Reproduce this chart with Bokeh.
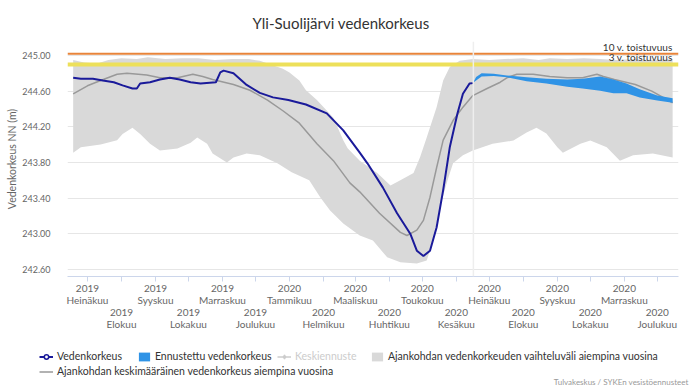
import pandas as pd
from bokeh.plotting import figure
from bokeh.layouts import column
from bokeh.models import (Range1d, FixedTicker, NumeralTickFormatter, Span, Label,
                          Legend, LegendItem)
from bokeh.embed import file_html
from bokeh.resources import INLINE

FONT = "Lato"

# ---------------- data ----------------
band_max_dates = ["2019-06-18", "2019-06-28", "2019-07-10", "2019-07-20", "2019-08-01", "2019-08-15",
                  "2019-08-25", "2019-09-10", "2019-09-25", "2019-10-10", "2019-10-25", "2019-11-10",
                  "2019-11-25", "2019-12-05", "2019-12-26", "2020-01-01", "2020-01-10", "2020-01-16",
                  "2020-01-26", "2020-02-10", "2020-02-19", "2020-02-23", "2020-03-05", "2020-03-21",
                  "2020-04-02", "2020-04-11", "2020-04-23", "2020-04-29", "2020-05-05", "2020-05-14",
                  "2020-05-20", "2020-05-26", "2020-06-04", "2020-06-16", "2020-07-01", "2020-07-15",
                  "2020-08-01", "2020-08-15", "2020-08-25", "2020-09-10", "2020-09-25", "2020-10-10",
                  "2020-10-25", "2020-11-10", "2020-11-25", "2020-12-15"]
band_max = [244.95, 244.92, 244.91, 244.95, 244.97, 244.96,
            244.98, 244.96, 244.97, 244.97, 244.95, 244.96,
            244.96, 244.94, 244.85, 244.81, 244.72, 244.61,
            244.50, 244.30, 244.05, 243.96, 243.82, 243.68,
            243.54, 243.60, 243.68, 243.86, 244.08, 244.42,
            244.72, 244.87, 244.94, 244.96, 244.95, 244.96,
            244.97, 244.95, 244.97, 244.96, 244.97, 244.96,
            244.95, 244.96, 244.95, 244.96]

band_min_dates = ["2019-06-18", "2019-06-25", "2019-07-13", "2019-07-28", "2019-08-02", "2019-08-11",
                  "2019-08-18", "2019-08-27", "2019-09-05", "2019-09-21", "2019-10-03", "2019-10-09",
                  "2019-10-18", "2019-10-23", "2019-11-05", "2019-11-11", "2019-11-23", "2019-12-05",
                  "2019-12-21", "2020-01-03", "2020-01-19", "2020-01-29", "2020-02-07", "2020-02-19",
                  "2020-03-05", "2020-03-17", "2020-03-30", "2020-04-11", "2020-04-26", "2020-05-05",
                  "2020-05-11", "2020-05-17", "2020-05-24", "2020-05-29", "2020-06-07", "2020-06-16",
                  "2020-07-04", "2020-07-23", "2020-08-04", "2020-08-13", "2020-08-22", "2020-09-01",
                  "2020-09-06", "2020-09-22", "2020-10-01", "2020-10-16", "2020-10-28", "2020-11-09",
                  "2020-11-27", "2020-12-15"]
band_min = [243.91, 243.97, 244.00, 244.05, 244.12, 244.19,
            244.12, 244.01, 243.935, 243.955, 244.02, 244.08,
            244.01, 243.90, 243.80, 243.855, 243.90, 243.88,
            243.79, 243.69, 243.60, 243.41, 243.26, 243.115,
            242.98, 242.925, 242.735, 242.68, 242.665, 242.70,
            242.925, 243.30, 243.60, 243.79, 243.88, 243.935,
            244.01, 244.045, 244.135, 244.19, 244.125, 243.97,
            243.91, 244.01, 244.045, 243.97, 243.82, 243.88,
            243.90, 243.855]

mean_dates = ["2019-06-18", "2019-07-01", "2019-07-13", "2019-07-28", "2019-08-06", "2019-08-24",
              "2019-09-05", "2019-09-21", "2019-10-05", "2019-10-14", "2019-10-23", "2019-11-11",
              "2019-11-26", "2019-12-12", "2019-12-26", "2020-01-10", "2020-01-26", "2020-02-10",
              "2020-02-25", "2020-03-05", "2020-03-23", "2020-04-11", "2020-04-17", "2020-04-26",
              "2020-05-02", "2020-05-08", "2020-05-14", "2020-05-20", "2020-05-29", "2020-06-07",
              "2020-06-16", "2020-06-29", "2020-07-11", "2020-07-17", "2020-07-26", "2020-08-10",
              "2020-08-25", "2020-09-10", "2020-09-24", "2020-10-07", "2020-10-13", "2020-10-23",
              "2020-11-11", "2020-11-26", "2020-12-15"]
mean_vals = [244.57, 244.66, 244.72, 244.79, 244.80, 244.78,
             244.75, 244.75, 244.79, 244.765, 244.73, 244.675,
             244.61, 244.50, 244.38, 244.24, 244.01, 243.82,
             243.57, 243.47, 243.23, 243.015, 242.98, 243.04,
             243.15, 243.41, 243.74, 244.05, 244.27, 244.42,
             244.55, 244.63, 244.70, 244.75, 244.79, 244.79,
             244.765, 244.75, 244.75, 244.79, 244.765, 244.73,
             244.675, 244.60, 244.47]

obs_dates = ["2019-06-18", "2019-06-25", "2019-07-06", "2019-07-15", "2019-07-25", "2019-08-02",
             "2019-08-11", "2019-08-15", "2019-08-18", "2019-08-27", "2019-09-05", "2019-09-14",
             "2019-09-23", "2019-10-03", "2019-10-12", "2019-10-26", "2019-10-30", "2019-11-02",
             "2019-11-11", "2019-11-23", "2019-12-05", "2019-12-17", "2019-12-31", "2020-01-16",
             "2020-02-04", "2020-02-19", "2020-03-05", "2020-03-12", "2020-03-26", "2020-04-08",
             "2020-04-20", "2020-04-26", "2020-05-02", "2020-05-08", "2020-05-14", "2020-05-20",
             "2020-05-26", "2020-06-02", "2020-06-07", "2020-06-13", "2020-06-16"]
obs_vals = [244.75, 244.74, 244.74, 244.72, 244.70, 244.665,
            244.63, 244.63, 244.685, 244.70, 244.73, 244.75,
            244.73, 244.70, 244.685, 244.70, 244.81, 244.83,
            244.80, 244.67, 244.58, 244.53, 244.50, 244.45,
            244.35, 244.16, 243.91, 243.79, 243.52, 243.23,
            243.00, 242.81, 242.75, 242.81, 243.07, 243.49,
            243.97, 244.35, 244.57, 244.685, 244.69]

fc_dates = ["2020-06-16", "2020-06-19", "2020-06-24", "2020-07-05", "2020-07-17", "2020-08-04",
            "2020-08-22", "2020-09-10", "2020-09-24", "2020-10-10", "2020-10-22", "2020-11-03",
            "2020-11-15", "2020-12-01", "2020-12-15"]
fc_low = [244.69, 244.72, 244.765, 244.77, 244.755, 244.71,
          244.685, 244.65, 244.63, 244.605, 244.575, 244.575,
          244.53, 244.495, 244.47]
fc_high = [244.69, 244.76, 244.80, 244.795, 244.776, 244.755,
           244.74, 244.73, 244.74, 244.765, 244.73, 244.685,
           244.62, 244.55, 244.52]
# "Keskiennuste" (median forecast) is switched off in the reference chart
fc_median = [244.69, 244.74, 244.78, 244.78, 244.765, 244.73,
             244.71, 244.69, 244.685, 244.68, 244.65, 244.63,
             244.575, 244.52, 244.495]

threshold_labels = ["10 v. toistuvuus", "3 v. toistuvuus"]
threshold_values = [245.02, 244.90]
forecast_start = "2020-06-16 12:00"

y_ticks = [242.6, 243.0, 243.4, 243.8, 244.2, 244.6, 245.0]
month_names = ["Tammikuu", "Helmikuu", "Maaliskuu", "Huhtikuu", "Toukokuu", "Kesäkuu",
               "Heinäkuu", "Elokuu", "Syyskuu", "Lokakuu", "Marraskuu", "Joulukuu"]
month_starts = pd.date_range("2019-07-01", "2020-12-01", freq="MS")

# ---------------- colours ----------------
BAND = "#d9d9d9"
MEAN = "#999999"
OBS = "#1a1a9a"
FC = "#2f93e6"
TXT = "#666666"


def ms(ts):
    return pd.Timestamp(ts).value / 1e6


p = figure(width=692, height=340, x_axis_type="datetime", output_backend="svg",
           toolbar_location=None,
           x_range=Range1d(pd.Timestamp("2019-06-12 20:00"), pd.Timestamp("2020-12-20 08:00")),
           y_range=Range1d(242.52, 245.157),
           min_border_left=67, min_border_right=14, min_border_top=41, min_border_bottom=64)
p.outline_line_color = None
p.background_fill_color = "white"
p.frame_align = False

# title
p.title.text = "Yli-Suolijärvi vedenkorkeus"
p.title.text_font = FONT
p.title.text_font_size = "15px"
p.title.text_font_style = "normal"
p.title.text_color = "#333333"
p.title.align = "left"
p.title.offset = 185
p.title.standoff = 19
p.title.text_line_height = 1.0

bx = list(pd.to_datetime(band_max_dates)) + list(pd.to_datetime(band_min_dates))[::-1]
by = band_max + band_min[::-1]
mx = pd.to_datetime(mean_dates)
fx = pd.to_datetime(fc_dates)
ox = pd.to_datetime(obs_dates)


def draw_series(fig):
    rb = fig.patch(bx, by, fill_color=BAND, line_color=None)
    rm = fig.line(mx, mean_vals, line_color=MEAN, line_width=1.5)
    rf = fig.varea(x=fx, y1=fc_low, y2=fc_high, fill_color=FC)
    ro = fig.line(ox, obs_vals, line_color=OBS, line_width=2)
    ro_m = fig.scatter(ox, obs_vals, marker="circle", size=7, fill_color="white",
                       line_color=OBS, line_width=1.5, visible=False)
    rmed = fig.line(fx, fc_median, line_color="#cccccc", line_width=1.5, visible=False)
    rmed_m = fig.scatter(fx, fc_median, marker="diamond", size=8, fill_color="#cccccc",
                         line_color="#cccccc", visible=False)
    return rb, rm, rf, ro, ro_m, rmed, rmed_m


draw_series(p)

# threshold lines
p.add_layout(Span(location=threshold_values[1], dimension="width", line_color="#ede05a", line_width=4))
p.add_layout(Span(location=threshold_values[0], dimension="width", line_color="#e8843a", line_width=2))
p.add_layout(Span(location=ms(forecast_start), dimension="height", line_color="#eeeeee", line_width=1.5))
for lab, val in zip(threshold_labels, threshold_values):
    p.add_layout(Label(x=605, x_units="screen", y=val, text=lab, text_align="right",
                       text_baseline="bottom", y_offset=1, text_font=FONT,
                       text_font_size="10px", text_color="#333333"))

# axes
p.xgrid.visible = False
p.ygrid.grid_line_color = "#e6e6e6"
p.yaxis.ticker = FixedTicker(ticks=y_ticks)
p.yaxis.formatter = NumeralTickFormatter(format="0.00")
p.yaxis.axis_line_color = None
p.yaxis.major_tick_line_color = None
p.yaxis.minor_tick_line_color = None
p.yaxis.major_label_standoff = 11
p.yaxis.major_label_text_font = FONT
p.yaxis.major_label_text_font_size = "9px"
p.yaxis.major_label_text_color = TXT
p.yaxis.axis_label = "Vedenkorkeus NN (m)"
p.yaxis.axis_label_text_font = FONT
p.yaxis.axis_label_text_font_size = "10.5px"
p.yaxis.axis_label_text_font_style = "normal"
p.yaxis.axis_label_text_color = TXT
p.yaxis.axis_label_standoff = 1

xt = [ms(d) for d in month_starts]
overrides = {}
for i, d in enumerate(month_starts):
    lab = f"{d.year}\n{month_names[d.month - 1]}"
    overrides[xt[i]] = lab if i % 2 == 0 else " \n \n" + lab
p.xaxis.ticker = FixedTicker(ticks=xt)
p.xaxis.major_label_overrides = overrides
p.xaxis.axis_line_color = "#ccd6eb"
p.xaxis.major_tick_line_color = "#ccd6eb"
p.xaxis.minor_tick_line_color = None
p.xaxis.major_tick_in = 0
p.xaxis.major_tick_out = 5
p.xaxis.major_label_standoff = 0
p.xaxis.major_label_text_line_height = 1.0
p.xaxis.major_label_text_font = FONT
p.xaxis.major_label_text_font_size = "10px"
p.xaxis.major_label_text_color = TXT

# ---------------- legend strip ----------------
# the strip carries the same series; its view range lies away from the data so only the legend shows
q = figure(width=692, height=48, output_backend="svg", toolbar_location=None,
           x_axis_location=None, y_axis_location=None,
           x_range=Range1d(0, 1), y_range=Range1d(0, 1),
           min_border_left=0, min_border_right=0, min_border_top=0, min_border_bottom=0)
q.frame_align = False
q.outline_line_color = None
q.xgrid.visible = False
q.ygrid.visible = False
lb, lm, lf, lo, lo_m, lmed, lmed_m = draw_series(q)


def make_legend(items, loc, color="#333333"):
    leg = Legend(items=items, location=loc)
    leg.orientation = "horizontal"
    leg.border_line_color = None
    leg.background_fill_alpha = 0
    leg.padding = 0
    leg.margin = 0
    leg.spacing = 15
    leg.label_standoff = 4
    leg.glyph_width = 14
    leg.glyph_height = 11
    leg.label_height = 11
    leg.label_text_font = FONT
    leg.label_text_font_size = "10.5px"
    leg.label_text_color = color
    leg.click_policy = "none"
    leg.inactive_fill_alpha = 0.0
    q.add_layout(leg)
    return leg


make_legend([LegendItem(label="Vedenkorkeus", renderers=[lo, lo_m]),
             LegendItem(label="Ennustettu vedenkorkeus", renderers=[lf])], (39, 26))
make_legend([LegendItem(label="Keskiennuste", renderers=[lmed, lmed_m])], (277, 26), "#cccccc")
make_legend([LegendItem(label="Ajankohdan vedenkorkeuden vaihteluväli aiempina vuosina",
                        renderers=[lb])], (370, 26))
make_legend([LegendItem(label="Ajankohdan keskimääräinen vedenkorkeus aiempina vuosina",
                        renderers=[lm])], (39, 11))

q.add_layout(Label(x=688, y=7, x_units="screen", y_units="screen",
                   text="Tulvakeskus / SYKEn vesistöennusteet", text_align="right",
                   text_baseline="middle", text_font=FONT, text_font_size="8px",
                   text_color="#999999"))

layout = column(p, q, spacing=0)
open("out.html", "w").write(file_html(layout, INLINE))
